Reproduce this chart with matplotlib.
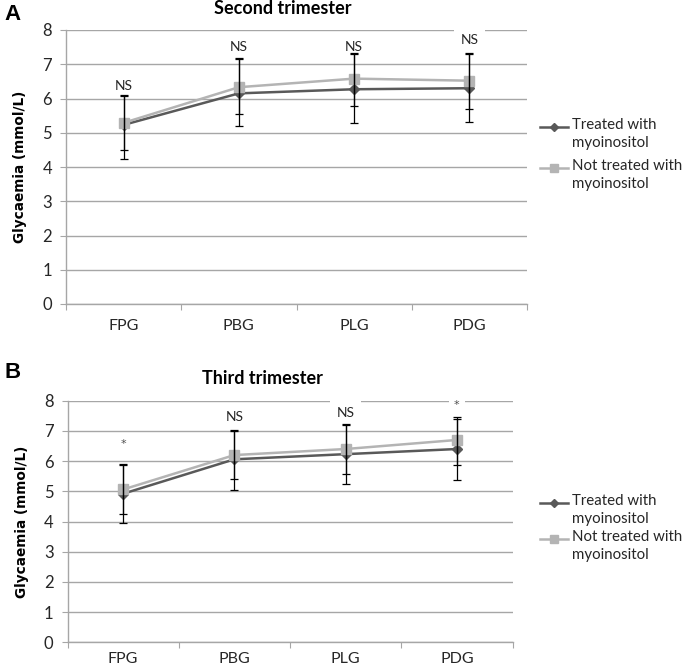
import matplotlib
matplotlib.use("Agg")
import matplotlib.pyplot as plt
from matplotlib.lines import Line2D
import numpy as np

# categories on the x axis
categories = ["FPG", "PBG", "PLG", "PDG"]
series_names = ["Treated with\nmyoinositol", "Not treated with\nmyoinositol"]

# second trimester (panel A): means, lower and upper ends of the error bars
a_treated = [5.23, 6.15, 6.27, 6.30]
a_treated_lo = [4.23, 5.20, 5.29, 5.32]
a_treated_hi = [6.06, 7.15, 7.30, 7.30]
a_not = [5.29, 6.33, 6.58, 6.52]
a_not_lo = [4.50, 5.54, 5.78, 5.70]
a_not_hi = [6.09, 7.19, 7.33, 7.33]
a_sig = ["NS", "NS", "NS", "NS"]
a_sig_y = [6.36, 7.50, 7.50, 7.70]

# third trimester (panel B)
b_treated = [4.92, 6.06, 6.23, 6.40]
b_treated_lo = [3.94, 5.04, 5.25, 5.38]
b_treated_hi = [5.86, 7.00, 7.18, 7.40]
b_not = [5.06, 6.20, 6.40, 6.70]
b_not_lo = [4.24, 5.40, 5.57, 5.87]
b_not_hi = [5.89, 7.02, 7.22, 7.45]
b_sig = ["*", "NS", "NS", "*"]
b_sig_y = [6.56, 7.45, 7.60, 7.86]

DARK = "#595959"
LIGHT = "#b4b4b4"
GRID = "#a6a6a6"
TXT = "#262626"
W, H = 685, 670

plt.rcParams["font.family"] = ["Lato", "DejaVu Sans"]

fig = plt.figure(figsize=(W / 100, H / 100), dpi=100)


def fx(x):
    return x / W


def fy(y):
    return 1 - y / H


def draw_panel(rect, title, title_xy, letter, letter_xy, series, sig, sig_y, legend_y, xpad):
    left, top, right, bottom = rect
    ax = fig.add_axes([fx(left), fy(bottom), fx(right - left), fy(top) - fy(bottom)])
    x = np.arange(len(categories)) + 0.5

    styles = [(DARK, "D", 5.5), (LIGHT, "s", 6.5)]
    for (mean, lo, hi), (col, mk, ms) in zip(series, styles):
        mean = np.array(mean)
        yerr = [mean - np.array(lo), np.array(hi) - mean]
        ax.plot(x, mean, color=col, lw=1.8, marker=mk, ms=ms, mec=col, mfc=col, zorder=3)
        ax.errorbar(x, mean, yerr=yerr, fmt="none", ecolor="black", elinewidth=0.9,
                    capsize=3.2, capthick=0.9, zorder=4)

    # significance labels sit on white boxes that break the gridlines
    for xi, s, ys in zip(x, sig, sig_y):
        if s == "*":
            ax.text(xi, ys, s, ha="center", va="center", fontsize=8, color="#4d4d4d",
                    family="DejaVu Sans", zorder=1.5,
                    bbox=dict(boxstyle="square,pad=0.5", fc="white", ec="none"))
        else:
            ax.text(xi, ys, s, ha="center", va="center", fontsize=10, color=TXT, zorder=1.5,
                    bbox=dict(boxstyle="square,pad=0.45", fc="white", ec="none"))

    ax.set_xlim(0, len(categories))
    ax.set_ylim(0, 8)
    ax.set_yticks(range(0, 9))
    ax.set_xticks(range(0, len(categories) + 1))
    ax.set_xticklabels([])
    ax.set_xticks(x, minor=True)
    ax.set_xticklabels(categories, minor=True)
    ax.tick_params(axis="x", which="minor", length=0, pad=xpad, labelsize=11.5, labelcolor=TXT)
    ax.tick_params(axis="x", which="major", length=4, color=GRID, direction="out")
    ax.tick_params(axis="y", length=4, color=GRID, pad=6, labelsize=12, labelcolor=TXT)
    ax.grid(axis="y", color=GRID, lw=1)
    ax.set_axisbelow(True)
    for s in ["top", "right"]:
        ax.spines[s].set_visible(False)
    for s in ["left", "bottom"]:
        ax.spines[s].set_color(GRID)
        ax.spines[s].set_linewidth(1)

    ax.set_ylabel("Glycaemia (mmol/L)", fontsize=9.8, fontweight="bold",
                  family="DejaVu Sans", labelpad=11, color="black")

    fig.text(fx(title_xy[0]), fy(title_xy[1]), title, ha="center", va="center",
             fontsize=13, fontweight="bold", color="black")
    fig.text(fx(letter_xy[0]), fy(letter_xy[1]), letter, ha="left", va="center",
             fontsize=16, fontweight="bold", family="Liberation Sans", color="black")

    # legend drawn like the spreadsheet one: marker aligned to the first text line
    for (col, mk, ms), name, ly in zip(styles, series_names, legend_y):
        fig.add_artist(Line2D([fx(540), fx(568)], [fy(ly), fy(ly)], color=col, lw=1.8,
                              transform=fig.transFigure))
        fig.add_artist(Line2D([fx(554)], [fy(ly)], color=col, marker=mk, ms=ms * 0.8,
                              mec=col, mfc=col, transform=fig.transFigure))
        fig.text(fx(572), fy(ly - 9), name, ha="left", va="top", fontsize=10.8,
                 color=TXT, linespacing=1.35)
    return ax


draw_panel((66, 30, 527, 304), "Second trimester", (283, 9), "A", (4, 15),
           [(a_treated, a_treated_lo, a_treated_hi), (a_not, a_not_lo, a_not_hi)],
           a_sig, a_sig_y, [127, 168], 11)
draw_panel((67.5, 400.7, 512.5, 642.3), "Third trimester", (262.5, 378), "B", (4, 372),
           [(b_treated, b_treated_lo, b_treated_hi), (b_not, b_not_lo, b_not_hi)],
           b_sig, b_sig_y, [503, 539], 7)

fig.savefig("out.png", dpi=100)
